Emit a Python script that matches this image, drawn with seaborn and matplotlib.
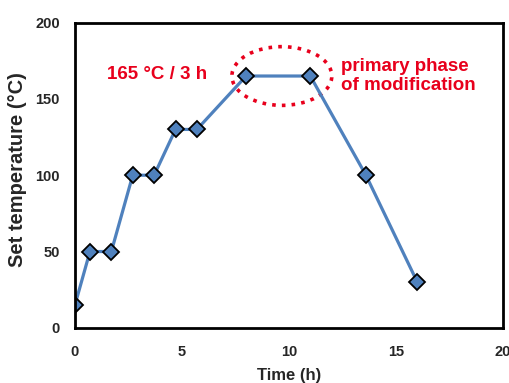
import matplotlib
matplotlib.use("Agg")
import matplotlib.pyplot as plt
import seaborn as sns
import pandas as pd
from matplotlib.patches import Ellipse

time_h = [0, 0.7, 1.7, 2.7, 3.7, 4.7, 5.7, 8, 11, 13.6, 16]
temp_c = [15, 50, 50, 100, 100, 130, 130, 165, 165, 100, 30]
x_ticks = [0, 5, 10, 15, 20]
y_ticks = [0, 50, 100, 150, 200]

sns.set_theme(style="white")
plt.rcParams['font.family'] = ['Liberation Sans', 'DejaVu Sans']
plt.rcParams['font.weight'] = 'bold'

df = pd.DataFrame({"Time (h)": time_h, "Set temperature (°C)": temp_c})

fig = plt.figure(figsize=(5.1, 3.83), dpi=100)
ax = fig.add_axes([0.147, 0.144, 0.839, 0.797])

sns.lineplot(data=df, x="Time (h)", y="Set temperature (°C)", ax=ax,
             color="#4F81BD", linewidth=2.3, marker="D", markersize=8,
             markerfacecolor="#4F81BD", markeredgecolor="black",
             markeredgewidth=1.3, sort=False)

ax.set_xlim(0, 20)
ax.set_ylim(0, 200)
ax.set_xticks(x_ticks)
ax.set_yticks(y_ticks)
ax.tick_params(axis='both', direction='in', length=3, width=0.8, color='#888888',
               labelsize=10.5)
ax.tick_params(axis='x', pad=12)
ax.tick_params(axis='y', pad=11)
for lab in ax.get_xticklabels() + ax.get_yticklabels():
    lab.set_fontweight('bold')
for s in ax.spines.values():
    s.set_color('black')
    s.set_linewidth(2)

ax.set_xlabel("Time (h)", fontsize=12, fontweight='bold', labelpad=7)
ax.set_ylabel("Set temperature (°C)", fontsize=14.5, fontweight='bold')
ax.yaxis.set_label_coords(-0.112, 0.52)

ell = Ellipse((9.67, 165), width=4.67, height=38.5, fill=False,
              edgecolor='#E8001C', linestyle=(0, (1, 1.7)), linewidth=2.6, zorder=1)
ax.add_patch(ell)

ax.text(1.5, 166, "165 °C / 3 h", color='#E8001C', fontsize=13.5, fontweight='bold',
        ha='left', va='center')
ax.text(12.43, 165, "primary phase\nof modification", color='#E8001C', fontsize=13.5,
        fontweight='bold', ha='left', va='center', linespacing=1.2)

fig.savefig("out.png", dpi=100)
